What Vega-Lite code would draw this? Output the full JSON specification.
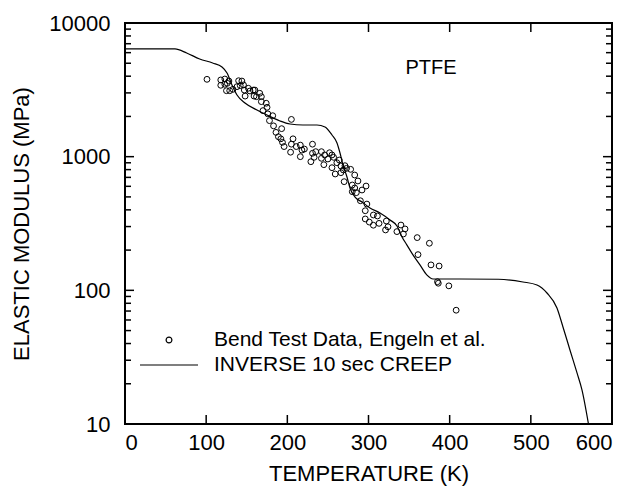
{
 "$schema": "https://vega.github.io/schema/vega-lite/v6.json",
 "width": 487,
 "height": 401,
 "autosize": {"type": "none"},
 "padding": {"left": 125, "top": 23, "right": 32, "bottom": 73},
 "config": {
  "font": "Liberation Sans",
  "view": {"stroke": "#000", "strokeWidth": 2},
  "axis": {"domain": false, "grid": false, "ticks": false, "tickSize": 0, "labelFont": "Liberation Sans", "titleFont": "Liberation Sans", "labelFontSize": 22, "titleFontSize": 22, "labelColor": "#000", "titleColor": "#000", "titleFontWeight": "normal"}
 },
 "datasets": {
  "pts": [
   {"T":101,"E":3790},{"T":118,"E":3750},{"T":123,"E":3810},{"T":118,"E":3420},{"T":123,"E":3480},{"T":128,"E":3680},{"T":125,"E":3115},{"T":129,"E":3115},{"T":126,"E":3540},{"T":133,"E":3190},{"T":138,"E":3340},{"T":140,"E":3700},{"T":144,"E":3680},{"T":142,"E":3400},{"T":146,"E":3440},{"T":147,"E":3150},{"T":148,"E":2840},{"T":152,"E":3250},{"T":154,"E":3100},{"T":158,"E":3150},{"T":160,"E":3150},{"T":159,"E":2840},{"T":162,"E":2810},{"T":166,"E":2980},{"T":168,"E":2810},{"T":168,"E":2580},{"T":174,"E":2510},{"T":175,"E":2340},{"T":170,"E":2210},{"T":176,"E":2090},{"T":182,"E":2025},{"T":178,"E":1860},{"T":183,"E":1700},{"T":193,"E":1620},{"T":186,"E":1520},{"T":189,"E":1410},{"T":192,"E":1360},{"T":194,"E":1280},{"T":196,"E":1190},{"T":205,"E":1900},{"T":207,"E":1360},{"T":205,"E":1240},{"T":204,"E":1080},{"T":211,"E":1190},{"T":216,"E":1220},{"T":218,"E":1120},{"T":221,"E":1140},{"T":216,"E":1000},{"T":231,"E":1240},{"T":229,"E":917},{"T":231,"E":1060},{"T":235,"E":1090},{"T":233,"E":989},{"T":242,"E":1090},{"T":242,"E":972},{"T":246,"E":1030},{"T":245,"E":871},{"T":252,"E":1070},{"T":250,"E":961},{"T":255,"E":1030},{"T":257,"E":989},{"T":261,"E":901},{"T":255,"E":827},{"T":264,"E":944},{"T":266,"E":852},{"T":271,"E":856},{"T":273,"E":818},{"T":269,"E":795},{"T":266,"E":759},{"T":259,"E":742},{"T":278,"E":804},{"T":283,"E":729},{"T":287,"E":658},{"T":270,"E":650},{"T":280,"E":614},{"T":283,"E":583},{"T":292,"E":563},{"T":297,"E":603},{"T":280,"E":547},{"T":285,"E":538},{"T":290,"E":468},{"T":298,"E":442},{"T":296,"E":394},{"T":306,"E":366},{"T":311,"E":360},{"T":296,"E":342},{"T":301,"E":324},{"T":306,"E":307},{"T":313,"E":317},{"T":322,"E":330},{"T":324,"E":299},{"T":321,"E":283},{"T":335,"E":275},{"T":340,"E":308},{"T":345,"E":288},{"T":343,"E":264},{"T":360,"E":248},{"T":375,"E":225},{"T":361,"E":185},{"T":377,"E":155},{"T":387,"E":152},{"T":385,"E":116},{"T":386,"E":113},{"T":399,"E":108},{"T":408,"E":71}
  ],
  "creep": [
   {"T":0,"E":6395},{"T":61.6,"E":6395},{"T":76,"E":5965},{"T":92,"E":5379},{"T":108,"E":5021},{"T":119.5,"E":4686},{"T":125.7,"E":4227},{"T":131.8,"E":3438},{"T":138,"E":2893},{"T":147.8,"E":2520},{"T":162.6,"E":2235},{"T":174.9,"E":2050},{"T":190.9,"E":1849},{"T":203.3,"E":1755},{"T":219.3,"E":1726},{"T":236.5,"E":1726},{"T":246.4,"E":1667},{"T":255,"E":1453},{"T":261.2,"E":1266},{"T":264.9,"E":1065},{"T":268.6,"E":866},{"T":273.5,"E":705},{"T":277.2,"E":583},{"T":283.4,"E":499},{"T":292,"E":458},{"T":301.8,"E":413},{"T":314.2,"E":379},{"T":326.5,"E":336},{"T":335.1,"E":303},{"T":341.3,"E":251},{"T":347.4,"E":218},{"T":354.8,"E":184},{"T":363.4,"E":155},{"T":372.1,"E":130},{"T":379.5,"E":121.6},{"T":388.1,"E":121.6},{"T":412.7,"E":121.6},{"T":460,"E":121},{"T":490.3,"E":115.5},{"T":507.6,"E":109.6},{"T":519.9,"E":95.5},{"T":532.2,"E":73.8},{"T":539.6,"E":53.2},{"T":548.2,"E":35.8},{"T":556.9,"E":24.1},{"T":563,"E":18},{"T":571,"E":10}
  ],
  "lbl": [{"T":377,"E":4600,"text":"PTFE"}],
  "yt": [{"E":10},{"E":20},{"E":30},{"E":40},{"E":50},{"E":60},{"E":70},{"E":80},{"E":90},{"E":100},{"E":200},{"E":300},{"E":400},{"E":500},{"E":600},{"E":700},{"E":800},{"E":900},{"E":1000},{"E":2000},{"E":3000},{"E":4000},{"E":5000},{"E":6000},{"E":7000},{"E":8000},{"E":9000},{"E":10000}],
  "xt": [{"T":0},{"T":100},{"T":200},{"T":300},{"T":400},{"T":500},{"T":600}]
 },
 "layer": [
  {
   "data": {"name": "pts"},
   "transform": [{"calculate": "'Bend Test Data, Engeln et al.'", "as": "series"}],
   "mark": {"type": "point", "filled": false, "color": "#000", "strokeWidth": 1, "opacity": 1},
   "encoding": {
    "x": {"field": "T", "type": "quantitative", "scale": {"domain": [0, 600], "nice": false, "zero": false},
     "axis": {"orient": "bottom", "values": [0,100,200,300,400,500,600], "labelPadding": 8, "title": "TEMPERATURE (K)", "titlePadding": 10}},
    "y": {"field": "E", "type": "quantitative", "scale": {"type": "log", "domain": [10, 10000], "nice": false},
     "axis": {"orient": "left", "values": [10,100,1000,10000],
      "labelExpr": "format(datum.value, 'd')",
      "labelOverlap": false, "labelPadding": 15, "title": "ELASTIC MODULUS (MPa)", "titlePadding": 15}},
    "shape": {"field": "series", "type": "nominal",
     "scale": {"domain": ["Bend Test Data, Engeln et al.", "INVERSE 10 sec CREEP"], "range": ["circle", "M-1,0L1,0"]},
     "legend": {"title": null, "orient": "none", "legendX": 14, "legendY": 307, "padding": 0, "labelFontSize": 21, "labelFont": "Liberation Sans", "labelColor": "#000", "labelOffset": 15, "labelLimit": 0, "clipHeight": 20, "rowPadding": 4, "symbolStrokeColor": "#000", "symbolStrokeWidth": 1.2, "symbolFillColor": "transparent"}},
    "size": {"field": "series", "type": "nominal",
     "scale": {"domain": ["Bend Test Data, Engeln et al.", "INVERSE 10 sec CREEP"], "range": [34, 3364]},
     "legend": {"title": null, "orient": "none", "legendX": 14, "legendY": 307, "padding": 0, "labelFontSize": 21, "labelFont": "Liberation Sans", "labelColor": "#000", "labelOffset": 15, "labelLimit": 0, "clipHeight": 20, "rowPadding": 4, "symbolStrokeColor": "#000", "symbolStrokeWidth": 1.2, "symbolFillColor": "transparent"}}
   }
  },
  {
   "data": {"name": "creep"},
   "mark": {"type": "line", "color": "#000", "strokeWidth": 1.2, "interpolate": "monotone", "clip": true},
   "encoding": {
    "x": {"field": "T", "type": "quantitative"},
    "y": {"field": "E", "type": "quantitative"}
   }
  },
  {
   "data": {"name": "lbl"},
   "mark": {"type": "text", "fontSize": 20, "font": "Liberation Sans", "color": "#000", "align": "center", "baseline": "middle"},
   "encoding": {
    "x": {"field": "T", "type": "quantitative"},
    "y": {"field": "E", "type": "quantitative"},
    "text": {"field": "text"}
   }
  },
  {
   "data": {"name": "yt"},
   "mark": {"type": "tick", "orient": "horizontal", "color": "#000", "opacity": 1, "thickness": 1.5, "clip": true},
   "encoding": {
    "x": {"datum": 0, "type": "quantitative"},
    "y": {"field": "E", "type": "quantitative"},
    "size": {"condition": {"test": "datum.E == 10 || datum.E == 100 || datum.E == 1000 || datum.E == 10000", "value": 18}, "value": 12}
   }
  },
  {
   "data": {"name": "yt"},
   "mark": {"type": "tick", "orient": "horizontal", "color": "#000", "opacity": 1, "thickness": 1.5, "clip": true},
   "encoding": {
    "x": {"datum": 600, "type": "quantitative"},
    "y": {"field": "E", "type": "quantitative"},
    "size": {"condition": {"test": "datum.E == 10 || datum.E == 100 || datum.E == 1000 || datum.E == 10000", "value": 18}, "value": 12}
   }
  },
  {
   "data": {"name": "xt"},
   "mark": {"type": "tick", "orient": "vertical", "color": "#000", "opacity": 1, "thickness": 1.5, "size": 18, "clip": true},
   "encoding": {
    "x": {"field": "T", "type": "quantitative"},
    "y": {"datum": 10, "type": "quantitative"}
   }
  },
  {
   "data": {"name": "xt"},
   "mark": {"type": "tick", "orient": "vertical", "color": "#000", "opacity": 1, "thickness": 1.5, "size": 18, "clip": true},
   "encoding": {
    "x": {"field": "T", "type": "quantitative"},
    "y": {"datum": 10000, "type": "quantitative"}
   }
  }
 ]
}
